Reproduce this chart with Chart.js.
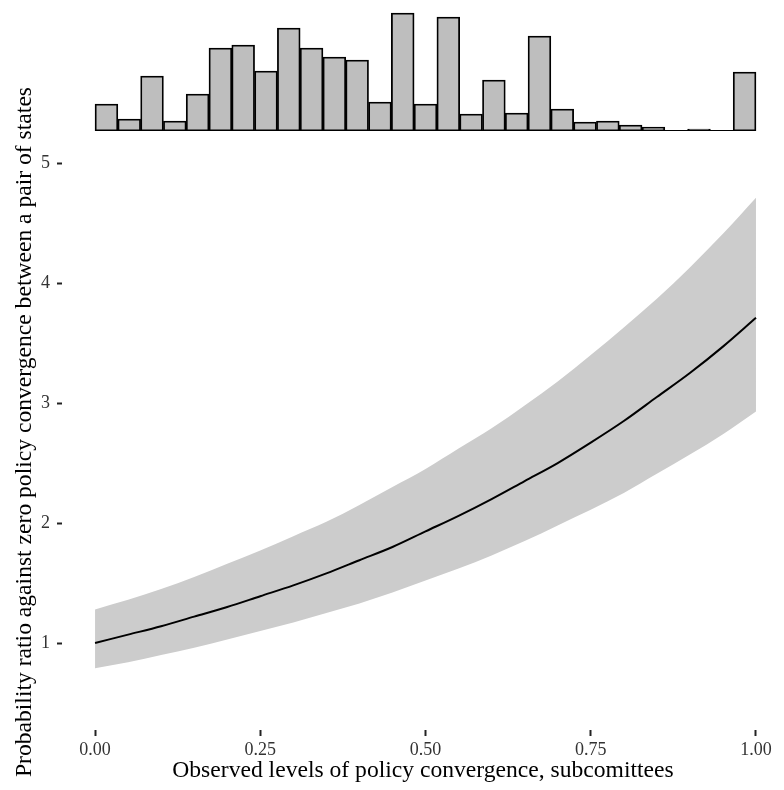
<!DOCTYPE html>
<html>
<head>
<meta charset="utf-8">
<script src="https://cdn.jsdelivr.net/npm/chart.js@4.4.1/dist/chart.umd.min.js"></script>
<style>
  body { margin: 0; background: #fff; }
  #wrap { position: relative; width: 784px; height: 790px; }
  #wrap canvas { position: absolute; left: 0; top: 0; }
</style>
</head>
<body>
<div id="wrap">
  <canvas id="main" width="784" height="790"></canvas>
  <canvas id="hist" width="784" height="134"></canvas>
</div>
<script>
// x grid of the fitted curve
var xGrid = [0, 0.05, 0.1, 0.15, 0.2, 0.25, 0.3, 0.35, 0.4, 0.45, 0.5,
             0.55, 0.6, 0.65, 0.7, 0.75, 0.8, 0.85, 0.9, 0.95, 1];
var fitLine = [1.00, 1.07, 1.14, 1.22, 1.30, 1.39, 1.48, 1.58, 1.69, 1.80, 1.93,
               2.06, 2.20, 2.35, 2.50, 2.67, 2.85, 3.05, 3.25, 3.47, 3.71];
var ciUpper = [1.28, 1.36, 1.45, 1.55, 1.66, 1.77, 1.89, 2.01, 2.15, 2.30, 2.45,
               2.62, 2.79, 2.98, 3.18, 3.40, 3.63, 3.87, 4.13, 4.41, 4.71];
var ciLower = [0.79, 0.84, 0.90, 0.96, 1.03, 1.10, 1.17, 1.25, 1.33, 1.42, 1.52,
               1.62, 1.73, 1.85, 1.98, 2.11, 2.25, 2.41, 2.57, 2.74, 2.93];

// marginal histogram of observed convergence (29 bins over 0..1)
var histCounts = [27, 12, 55, 10, 37, 83, 86, 60, 103, 83, 74, 71, 29, 118, 27,
                  114, 17, 51, 18, 95, 22, 9, 10, 6, 4, 0, 2, 0, 59];

var xTicks = [0, 0.25, 0.5, 0.75, 1];
var xTickLabels = ['0.00', '0.25', '0.50', '0.75', '1.00'];
var yTicks = [1, 2, 3, 4, 5];

var xTitle = 'Observed levels of policy convergence, subcomittees';
var yTitle = 'Probability ratio against zero policy convergence between a pair of states';

var serif = "'Liberation Serif', 'Times New Roman', serif";
var xMin = -0.05, xMax = 1.0424;

function pts(ys) {
  return xGrid.map(function(x, i) { return {x: x, y: ys[i]}; });
}

// dataset 0 is drawn on top, so the line goes first
new Chart(document.getElementById('main'), {
  type: 'line',
  data: {
    datasets: [
      { data: pts(fitLine), borderColor: '#000', borderWidth: 2, pointRadius: 0,
        fill: false, cubicInterpolationMode: 'monotone' },
      { data: pts(ciUpper), borderWidth: 0, pointRadius: 0, fill: '+1',
        backgroundColor: '#cccccc', cubicInterpolationMode: 'monotone' },
      { data: pts(ciLower), borderWidth: 0, pointRadius: 0, fill: false,
        cubicInterpolationMode: 'monotone' }
    ]
  },
  options: {
    responsive: false,
    devicePixelRatio: 1,
    animation: false,
    layout: { padding: { top: 134, left: 0, right: 0, bottom: 0 } },
    plugins: { legend: { display: false }, tooltip: { enabled: false } },
    scales: {
      x: {
        type: 'linear', min: xMin, max: xMax,
        afterBuildTicks: function(s) { s.ticks = xTicks.map(function(v) { return {value: v}; }); },
        afterFit: function(s) { s.height = 60; },
        grid: { drawOnChartArea: false, drawTicks: true, tickLength: 6, tickColor: '#222', tickWidth: 2 },
        border: { display: false },
        ticks: {
          autoSkip: false, maxRotation: 0, padding: 3, color: '#333',
          font: { family: serif, size: 18 },
          callback: function(v) { return xTickLabels[xTicks.indexOf(v)]; }
        },
        title: { display: true, text: xTitle, color: '#000',
                 font: { family: serif, size: 23.6 }, padding: { top: 0, bottom: 5 } }
      },
      y: {
        type: 'linear', min: 0.275, max: 5.242,
        afterBuildTicks: function(s) { s.ticks = yTicks.map(function(v) { return {value: v}; }); },
        afterFit: function(s) { s.width = 62; },
        grid: { drawOnChartArea: false, drawTicks: true, tickLength: 5, tickColor: '#222', tickWidth: 2 },
        border: { display: false },
        ticks: { autoSkip: false, padding: 7, color: '#333', font: { family: serif, size: 18 } },
        title: { display: true, text: yTitle, color: '#000',
                 font: { family: serif, size: 23.6 }, padding: { top: 11, bottom: 0 } }
      }
    }
  }
});

var binW = 1 / histCounts.length;
new Chart(document.getElementById('hist'), {
  type: 'bar',
  data: {
    datasets: [
      { type: 'line', data: [{x: 0, y: 0}, {x: 1, y: 0}], borderColor: '#000',
        borderWidth: 1.8, pointRadius: 0, fill: false },
      { data: histCounts.map(function(c, i) { return {x: (i + 0.5) * binW, y: c}; }),
        backgroundColor: '#bebebe', borderColor: '#000', borderWidth: 1.8,
        borderSkipped: false, barPercentage: 1, categoryPercentage: 1 }
    ]
  },
  options: {
    responsive: false,
    devicePixelRatio: 1,
    animation: false,
    layout: { padding: { top: 0, left: 62, right: 0, bottom: 3 } },
    plugins: { legend: { display: false }, tooltip: { enabled: false } },
    scales: {
      x: { type: 'linear', min: xMin, max: xMax, offset: false, display: false,
           afterBuildTicks: function(s) { s.ticks = xTicks.map(function(v) { return {value: v}; }); } },
      y: { min: 0, max: 131, display: false }
    }
  }
});
</script>
</body>
</html>
